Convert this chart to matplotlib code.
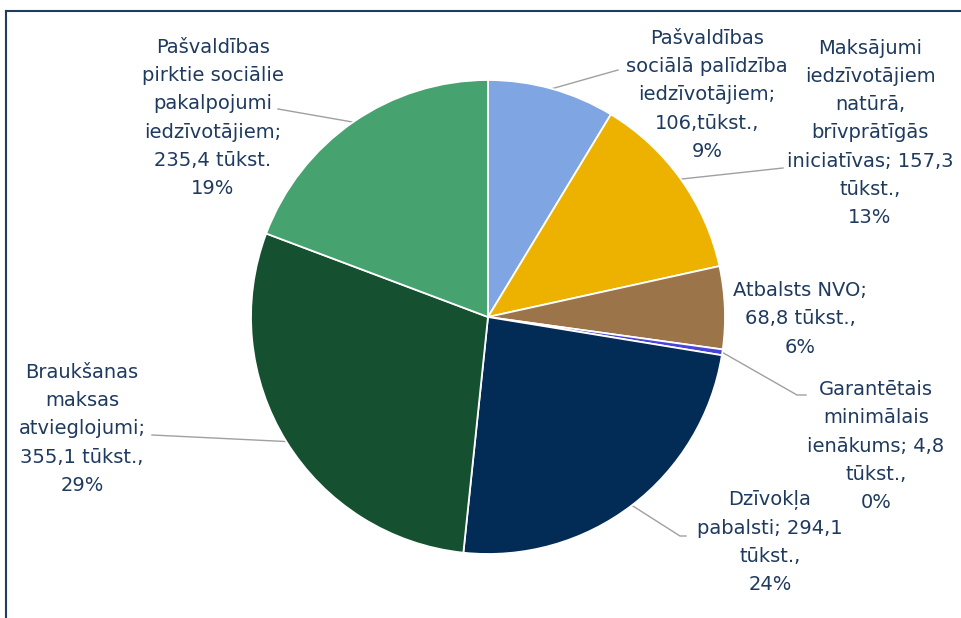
import numpy as np
import matplotlib
matplotlib.use("Agg")
import matplotlib.pyplot as plt
from matplotlib.lines import Line2D

# data (tūkst. EUR)
labels = [
    "Pašvaldības\nsociālā palīdzība\niedzīvotājiem;\n106,tūkst.,\n9%",
    "Maksājumi\niedzīvotājiem\nnatūrā,\nbrīvprātīgās\niniciatīvas; 157,3\ntūkst.,\n13%",
    "Atbalsts NVO;\n68,8 tūkst.,\n6%",
    "Garantētais\nminimālais\nienākums; 4,8\ntūkst.,\n0%",
    "Dzīvokļa\npabalsti; 294,1\ntūkst.,\n24%",
    "Braukšanas\nmaksas\natvieglojumi;\n355,1 tūkst.,\n29%",
    "Pašvaldības\npirktie sociālie\npakalpojumi\niedzīvotājiem;\n235,4 tūkst.\n19%",
]
values = [106.0, 157.3, 68.8, 4.8, 294.1, 355.1, 235.4]
colors = ["#7FA5E2", "#EDB100", "#9B7549", "#4A42DC", "#022B55", "#155030", "#46A26F"]

# label layout (pixel centres of text blocks, leader elbow/end points)
text_px = [(707, 95), (870, 133), (800, 319), (876, 446), (770, 542), (82, 429), (213, 118)]
leaders_px = [
    [(618, 70)],
    [(783, 168)],
    None,
    [(797, 395), (806, 395)],
    [(680, 536), (686, 536)],
    [(152, 435)],
    [(278, 109)],
]

W, H = 961, 618
CX, CY, R = 488, 317, 237
TXT = "#1F3A5F"


def to_data(p):
    return ((p[0] - CX) / R, (CY - p[1]) / R)


fig = plt.figure(figsize=(W / 100, H / 100), dpi=100)
ax = fig.add_axes([(CX - R) / W, (H - CY - R) / H, 2 * R / W, 2 * R / H])
wedges, _ = ax.pie(values, colors=colors, startangle=90, counterclock=False,
                   wedgeprops=dict(edgecolor="white", linewidth=1.3))
ax.set_xlim(-1, 1)
ax.set_ylim(-1, 1)
ax.set_aspect("equal")
ax.axis("off")

for w, lab, tp, ld in zip(wedges, labels, text_px, leaders_px):
    tx, ty = to_data(tp)
    ax.text(tx, ty, lab, ha="center", va="center", fontsize=14, color=TXT,
            linespacing=1.62, family="DejaVu Sans", clip_on=False)
    if ld:
        ang = np.deg2rad((w.theta1 + w.theta2) / 2)
        xs = [np.cos(ang)] + [to_data(p)[0] for p in ld]
        ys = [np.sin(ang)] + [to_data(p)[1] for p in ld]
        ax.plot(xs, ys, color="#A0A0A0", lw=1, clip_on=False, zorder=0)

# partial frame
fig.add_artist(Line2D([6 / W, 6 / W], [0, 1 - 11 / H], color="#1F3B5E", lw=1.5, transform=fig.transFigure))
fig.add_artist(Line2D([6 / W, 1], [1 - 11 / H, 1 - 11 / H], color="#1F3B5E", lw=1.5, transform=fig.transFigure))

fig.savefig("out.png", dpi=100)
